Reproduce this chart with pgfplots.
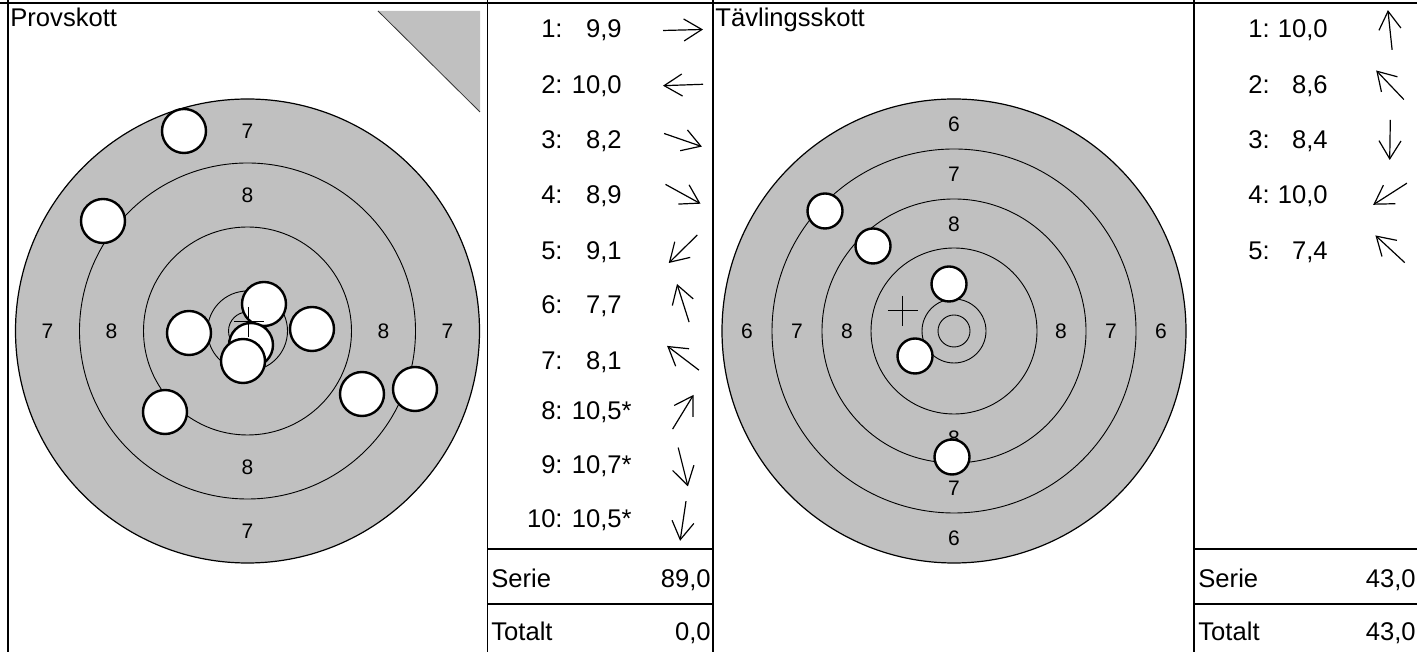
\documentclass[border=0pt]{standalone}
\usepackage{fontspec}
\setmainfont{Liberation Sans}
\usepackage{pgfplots}
\pgfplotsset{compat=1.18}
\usetikzlibrary{arrows.meta}
\definecolor{tgray}{RGB}{192,192,192}
\newcommand{\bigfont}{\fontsize{12.8}{15}\selectfont}
\newcommand{\ringfont}{\fontsize{10.5}{12}\selectfont}
\tikzset{rl/.style={font=\ringfont, inner sep=0pt},
  lb/.style={font=\bigfont, anchor=base east, inner sep=0pt},
  lw/.style={font=\bigfont, anchor=base west, inner sep=0pt}}
\begin{document}
\begin{tikzpicture}
\begin{axis}[
  width=708.5pt, height=326pt, scale only axis,
  xmin=0, xmax=1417, ymin=0, ymax=652, y dir=reverse,
  hide axis, clip=false,
]
% ---------- frame ----------
\draw[line width=0.8pt] (axis cs:0,3) -- (axis cs:1417,3);
\draw[line width=0.8pt] (axis cs:8,0) -- (axis cs:8,652);
\draw[line width=0.8pt] (axis cs:487.5,0) -- (axis cs:487.5,652);
\draw[line width=0.8pt] (axis cs:713,0) -- (axis cs:713,652);
\draw[line width=0.8pt] (axis cs:1194,0) -- (axis cs:1194,652);
\draw[line width=0.8pt] (axis cs:487.5,549) -- (axis cs:713,549);
\draw[line width=0.8pt] (axis cs:487.5,604) -- (axis cs:713,604);
\draw[line width=0.8pt] (axis cs:1194,549) -- (axis cs:1417,549);
\draw[line width=0.8pt] (axis cs:1194,604) -- (axis cs:1417,604);
% ---------- titles ----------
\node[lw] at (axis cs:10,27) {Provskott};
\node[lw] at (axis cs:715,27) {Tävlingsskott};
% gray triangle
\fill[tgray] (axis cs:378,11) -- (axis cs:480,11) -- (axis cs:480,112) -- cycle;
\draw[line width=0.4pt, black!80] (axis cs:378,11) -- (axis cs:480,112);
% ---------- left target ----------
\fill[tgray] (axis cs:247.5,331) circle[radius=116pt];
\draw[line width=0.6pt] (axis cs:247.5,331) circle[radius=116pt];
\draw[line width=0.45pt] (axis cs:247.5,331) circle[radius=84pt];
\draw[line width=0.45pt] (axis cs:247.5,331) circle[radius=52pt];
\draw[line width=0.45pt] (axis cs:247.5,331) circle[radius=20pt];
\draw[line width=0.45pt] (axis cs:247.5,331) circle[radius=9.5pt];
\node[rl] at (axis cs:247.5,131) {7};
\node[rl] at (axis cs:247.5,195) {8};
\node[rl] at (axis cs:247.5,467) {8};
\node[rl] at (axis cs:247.5,531) {7};
\node[rl] at (axis cs:47.5,331) {7};
\node[rl] at (axis cs:111.5,331) {8};
\node[rl] at (axis cs:383.5,331) {8};
\node[rl] at (axis cs:447.5,331) {7};
% ---------- right target ----------
\fill[tgray] (axis cs:954,331) circle[radius=116pt];
\draw[line width=0.6pt] (axis cs:954,331) circle[radius=116pt];
\draw[line width=0.45pt] (axis cs:954,331) circle[radius=91pt];
\draw[line width=0.45pt] (axis cs:954,331) circle[radius=66pt];
\draw[line width=0.45pt] (axis cs:954,331) circle[radius=41.5pt];
\draw[line width=0.45pt] (axis cs:954,331) circle[radius=16pt];
\draw[line width=0.45pt] (axis cs:954,331) circle[radius=8pt];
\node[rl] at (axis cs:954,124) {6};
\node[rl] at (axis cs:954,174) {7};
\node[rl] at (axis cs:954,224) {8};
\node[rl] at (axis cs:954,438) {8};
\node[rl] at (axis cs:954,488) {7};
\node[rl] at (axis cs:954,538) {6};
\node[rl] at (axis cs:747,331) {6};
\node[rl] at (axis cs:797,331) {7};
\node[rl] at (axis cs:847,331) {8};
\node[rl] at (axis cs:1061,331) {8};
\node[rl] at (axis cs:1111,331) {7};
\node[rl] at (axis cs:1161,331) {6};
% ---------- shots ----------
\addplot[only marks, mark=*, mark size=11pt,
  mark options={fill=white, draw=black, line width=1.2pt}]
  table[row sep=\\] {x y\\ 312 329\\ 189 333\\ 415 389\\ 362 394\\ 165 412\\
  184 131\\ 103 221\\ 264 304\\ 251 345\\ 243 361\\};
\addplot[only marks, mark=*, mark size=8.75pt,
  mark options={fill=white, draw=black, line width=1.2pt}]
  table[row sep=\\] {x y\\ 949 284\\ 873 246\\ 952 457\\ 915 356\\ 825 211\\};
% mean point of impact
\addplot[only marks, mark=+, mark size=7.5pt, mark options={line width=0.6pt, black}]
  table[row sep=\\] {x y\\ 248.8 321.9\\ 902.8 310.8\\};
% ---------- direction arrows ----------
\addplot[black, line width=0.6pt, -{Straight Barb[length=9pt,width=11pt]},
  quiver={u=\thisrow{u}, v=\thisrow{v}}]
  table[row sep=\\] {x y u v\\
  663 30.5 40 -1\\
  703 84.3 -40 1.4\\
  664.1 133.5 37.8 13.1\\
  665.5 184.4 35.0 19.3\\
  697.3 235 -28.5 28.0\\
  689.1 322.1 -12.1 -38.1\\
  698.9 370.1 -31.8 -24.2\\
  672.6 429.1 20.9 -34.2\\
  678.2 447.6 9.7 38.8\\
  686 501.2 -5.9 39.6\\
  1392.1 49.9 -4.2 -39.8\\
  1403.8 99.5 -27.6 -29.0\\
  1390.3 120 -0.6 40\\
  1406.9 183.2 -33.7 21.6\\
  1404.7 262.6 -29.3 -27.2\\};
% ---------- score lists ----------
\node[lb] at (axis cs:563,37.3) {1:};   \node[lb] at (axis cs:622,37.3) {9,9};
\node[lb] at (axis cs:563,93.3) {2:};   \node[lb] at (axis cs:622,93.3) {10,0};
\node[lb] at (axis cs:563,149) {3:};    \node[lb] at (axis cs:622,149) {8,2};
\node[lb] at (axis cs:563,203.5) {4:};  \node[lb] at (axis cs:622,203.5) {8,9};
\node[lb] at (axis cs:563,259.3) {5:};  \node[lb] at (axis cs:622,259.3) {9,1};
\node[lb] at (axis cs:563,313.5) {6:};  \node[lb] at (axis cs:622,313.5) {7,7};
\node[lb] at (axis cs:563,369.3) {7:};  \node[lb] at (axis cs:622,369.3) {8,1};
\node[lb] at (axis cs:563,420) {8:};    \node[lb] at (axis cs:622,420) {10,5\rlap{*}};
\node[lb] at (axis cs:563,473.5) {9:};  \node[lb] at (axis cs:622,473.5) {10,7\rlap{*}};
\node[lb] at (axis cs:563,527) {10:};   \node[lb] at (axis cs:622,527) {10,5\rlap{*}};
\node[lb] at (axis cs:1270,37.3) {1:};  \node[lb] at (axis cs:1328,37.3) {10,0};
\node[lb] at (axis cs:1270,93.3) {2:};  \node[lb] at (axis cs:1328,93.3) {8,6};
\node[lb] at (axis cs:1270,149) {3:};   \node[lb] at (axis cs:1328,149) {8,4};
\node[lb] at (axis cs:1270,203.5) {4:}; \node[lb] at (axis cs:1328,203.5) {10,0};
\node[lb] at (axis cs:1270,259.3) {5:}; \node[lb] at (axis cs:1328,259.3) {7,4};
\node[lw] at (axis cs:491,587) {Serie};
\node[lb] at (axis cs:711,587) {89,0};
\node[lw] at (axis cs:491,640) {Totalt};
\node[lb] at (axis cs:711,640) {0,0};
\node[lw] at (axis cs:1198,587) {Serie};
\node[lb] at (axis cs:1416,587) {43,0};
\node[lw] at (axis cs:1198,640) {Totalt};
\node[lb] at (axis cs:1416,640) {43,0};
\end{axis}
\pgfresetboundingbox
\path (0,0) rectangle (708.5pt,326pt);
\end{tikzpicture}
\end{document}
